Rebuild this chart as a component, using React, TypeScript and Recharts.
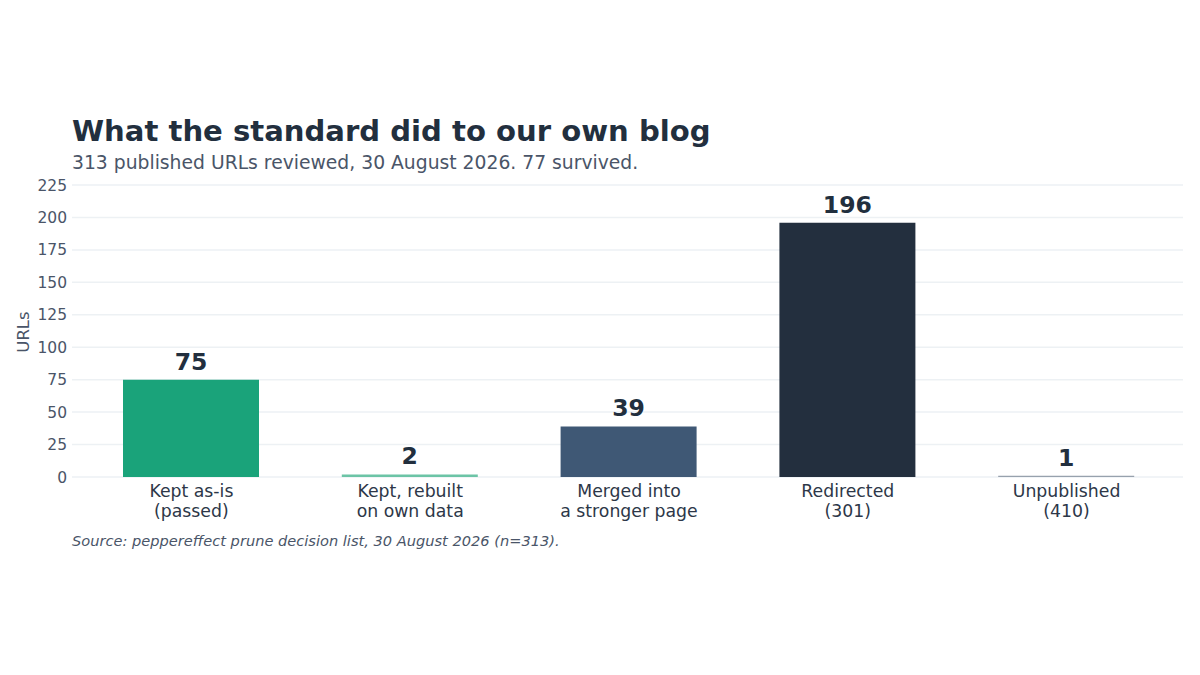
import React from "react";
import { BarChart, Bar, XAxis, YAxis, CartesianGrid, Cell, LabelList } from "recharts";

const categories = [
  "Kept as-is\n(passed)",
  "Kept, rebuilt\non own data",
  "Merged into\na stronger page",
  "Redirected\n(301)",
  "Unpublished\n(410)",
];
const counts = [75, 2, 39, 196, 1];
const barColors = ["#1aa37a", "#6cc4a6", "#3f5875", "#232f3e", "#97a1ad"];
const yTicks = [0, 25, 50, 75, 100, 125, 150, 175, 200, 225];

const data = categories.map((name, i) => ({ name, value: counts[i] }));

const FONT = "'DejaVu Sans', sans-serif";

function CategoryTick(props: any) {
  const { x, y, payload } = props;
  const lines = String(payload.value).split("\n");
  return (
    <text x={x} y={y} textAnchor="middle" fill="#2d3748" fontSize={17.3} fontFamily={FONT}>
      {lines.map((line: string, i: number) => (
        <tspan key={i} x={x} dy={20}>
          {line}
        </tspan>
      ))}
    </text>
  );
}

export default function App() {
  return (
    <div
      style={{
        position: "absolute",
        left: 0,
        top: 0,
        width: 1200,
        height: 675,
        background: "#ffffff",
        fontFamily: FONT,
        overflow: "hidden",
      }}
    >
      <div
        style={{
          position: "absolute",
          left: 72,
          top: 114,
          fontSize: 29.1,
          fontWeight: 700,
          color: "#222f3e",
          whiteSpace: "nowrap",
        }}
      >
        What the standard did to our own blog
      </div>
      <div
        style={{
          position: "absolute",
          left: 72,
          top: 152,
          fontSize: 18.75,
          color: "#4a5568",
          whiteSpace: "nowrap",
        }}
      >
        313 published URLs reviewed, 30 August 2026. 77 survived.
      </div>
      <div
        style={{
          position: "absolute",
          left: 23,
          top: 332,
          transform: "translate(-50%, -50%) rotate(-90deg)",
          fontSize: 16.5,
          color: "#4a5568",
          whiteSpace: "nowrap",
        }}
      >
        URLs
      </div>
      <div
        style={{
          position: "absolute",
          left: 72,
          top: 532,
          fontSize: 14.6,
          fontStyle: "italic",
          color: "#4a5568",
          whiteSpace: "nowrap",
        }}
      >
        Source: peppereffect prune decision list, 30 August 2026 (n=313).
      </div>
      <div style={{ position: "absolute", left: 0, top: 0 }}>
        <BarChart
          width={1200}
          height={675}
          data={data}
          margin={{ top: 185, right: 17, bottom: 148, left: 12 }}
        >
          <CartesianGrid vertical={false} stroke="#edf1f4" strokeWidth={1.5} />
          <XAxis
            dataKey="name"
            axisLine={false}
            tickLine={false}
            tickSize={0}
            tickMargin={0}
            height={50}
            interval={0}
            padding={{ left: 10, right: 7 }}
            tick={<CategoryTick />}
          />
          <YAxis
            width={60}
            domain={[0, 225]}
            ticks={yTicks}
            axisLine={false}
            tickLine={false}
            tickSize={0}
            tickMargin={5}
            tick={{ fill: "#4a5568", fontSize: 15.5, fontFamily: FONT }}
          />
          <Bar dataKey="value" barSize={136} isAnimationActive={false}>
            {data.map((d, i) => (
              <Cell key={d.name} fill={barColors[i]} />
            ))}
            <LabelList
              dataKey="value"
              position="top"
              offset={10}
              fill="#222f3e"
              fontSize={23.5}
              fontWeight={700}
              fontFamily={FONT}
            />
          </Bar>
        </BarChart>
      </div>
    </div>
  );
}
